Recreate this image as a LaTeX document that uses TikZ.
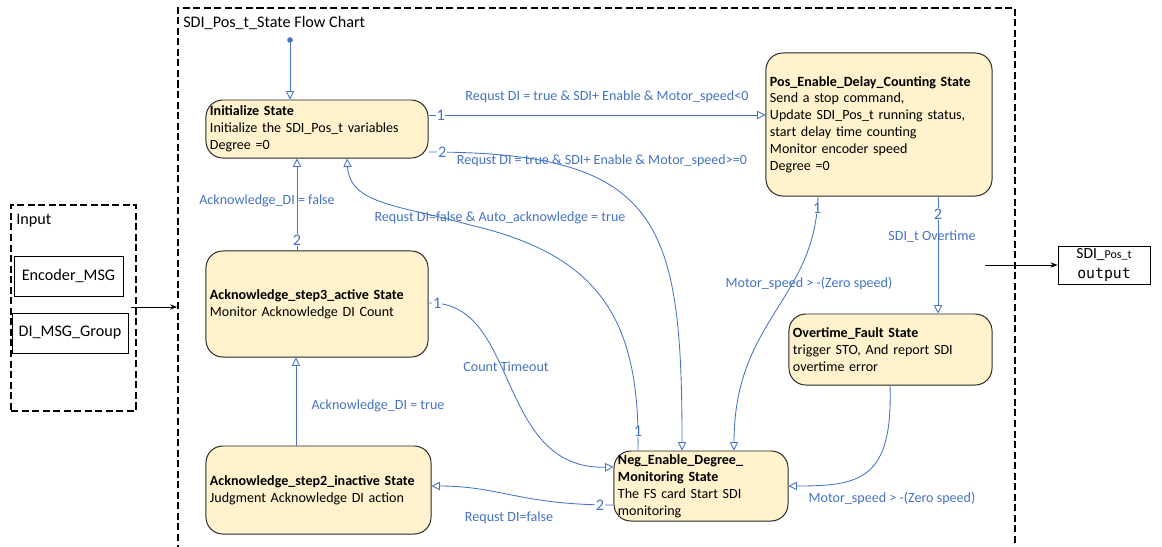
\documentclass[tikz,border=0pt]{standalone}
\usepackage{fontspec}
\setmainfont{Carlito}
\setmonofont{DejaVu Sans Mono}
\usetikzlibrary{arrows.meta,positioning}
\definecolor{flowblue}{HTML}{4472C4}
\definecolor{statefill}{HTML}{FFF2CC}

\begin{document}
\begin{tikzpicture}[
    x=0.025cm, y=-0.025cm,
    >=Stealth,
    state/.style={
        rectangle,
        rounded corners=12pt,
        draw=black!85,
        line width=0.7pt,
        fill=statefill,
        align=left,
        inner xsep=0.1cm,
        inner ysep=1pt,
        font=\fontsize{10}{12}\selectfont
    },
    flow/.style={
        draw=flowblue,
        line width=0.6pt,
        -{Triangle[open,length=6pt,width=6pt]}
    },
    lbl/.style={
        text=flowblue,
        inner sep=1pt,
        font=\fontsize{10}{12}\selectfont
    },
    num/.style={
        text=flowblue,
        fill=white,
        inner sep=0.5pt,
        font=\fontsize{11.5}{13}\selectfont
    },
    dashframe/.style={
        draw,
        line width=1.1pt,
        dash pattern=on 5pt off 2.5pt,
        inner sep=0pt
    },
    msgbox/.style={
        draw,
        line width=0.6pt,
        font=\fontsize{11.5}{14}\selectfont
    }
]
\useasboundingbox (0,0) rectangle (1162,546);

% Frames
\node[dashframe, minimum width=20.925cm, minimum height=13.8cm] (chart) at (596.5,284) {};
\node[anchor=west, inner sep=0pt, font=\fontsize{11.5}{14}\selectfont] (title) at (183,23) {SDI\_Pos\_t\_State Flow Chart};
\node[dashframe, minimum width=3.125cm, minimum height=5.15cm] (input) at (73.5,308) {};
\node[anchor=west, inner sep=0pt, font=\fontsize{11.5}{14}\selectfont] (inlbl) at (16,221) {Input};

% Input messages
\node[msgbox, minimum width=2.725cm, minimum height=1cm] (enc) at (68.5,276) {Encoder\_MSG};
\node[msgbox, minimum width=2.9cm, minimum height=1cm] (dimsg) at (70,333) {DI\_MSG\_Group};
\coordinate (insrc) at (131,307);
\draw[-{Stealth[length=5pt]}, line width=0.6pt] (insrc) -- (chart.west |- insrc);

% Output
\node[msgbox, minimum width=2.3cm, minimum height=0.95cm, align=center, inner sep=1pt, font=\fontsize{11}{14}\selectfont] (out) at (1104,265) {SDI\_{\fontsize{8.5}{10}\selectfont Pos\_t}\\{\ttfamily\fontsize{10.5}{14}\selectfont output}};
\coordinate (outsrc) at (985,265);
\draw[-{Stealth[length=5pt]}, line width=0.6pt] (outsrc) -- (out);

% States
\node[circle, fill=flowblue, inner sep=0pt, minimum size=4pt] (start) at (290,40) {};
\node[state, text width=5.35cm, minimum height=1.45cm] (init) at (317,129) {\textbf{Initialize State}\\Initialize the SDI\_Pos\_t variables\\Degree =0};
\node[state, text width=5.45cm, minimum height=3.575cm] (posen) at (879,124.5) {\textbf{Pos\_Enable\_Delay\_Counting State}\\Send a stop command,\\Update SDI\_Pos\_t running status,\\start delay time counting\\Monitor encoder speed\\Degree =0};
\node[state, text width=5.35cm, minimum height=2.65cm] (ackact) at (317,304) {\textbf{Acknowledge\_step3\_active State}\\Monitor Acknowledge DI Count};
\node[state, text width=5.425cm, minimum height=2.2cm] (ackinact) at (318.5,490) {\textbf{Acknowledge\_step2\_inactive State}\\Judgment Acknowledge DI action};
\node[state, text width=4.15cm, minimum height=1.75cm] (negmon) at (701,486) {\textbf{Neg\_Enable\_Degree\_}\\\textbf{Monitoring State}\\The FS card Start SDI\\monitoring};
\node[state, text width=4.875cm, minimum height=1.775cm] (ovtime) at (890.5,349.5) {\textbf{Overtime\_Fault State}\\trigger STO, And report SDI\\overtime error};

% Transitions
\draw[flow] (start) -- (init.north -| start);

\draw[flow] (init.east |- 0,115) -- node[num, pos=0.036]{1} (posen.west |- 0,115);
\node[lbl] (c1) at (607,97) {Requst DI = true \& SDI+ Enable \& Motor\_speed<0};

\draw[flow] (init.east |- 0,152) .. controls (660,152) and (682,220) .. (negmon.north -| 682,0) node[num, pos=0.02]{2};
\node[lbl] (c2) at (602,161) {Requst DI = true \& SDI+ Enable \& Motor\_speed>=0};

\draw[flow] (negmon.north -| 638,0) .. controls (640,320) and (600,255) .. (470,225) node[num, pos=0.05]{1}
    .. controls (400,205) and (350,205) .. (init.south -| 347,0);
\node[lbl] (c3) at (500,218) {Requst DI=false \& Auto\_acknowledge = true};

\draw[flow] (ackact.north -| 297,0) -- node[num, pos=0.11]{2} (init.south -| 297,0);
\node[lbl] (c4) at (267,201) {Acknowledge\_DI = false};

\draw[flow] (ackact.east |- 0,303) .. controls (520,300) and (495,470) .. (negmon.west |- 0,467) node[num, pos=0.033]{1};
\node[lbl] (c5) at (506,367) {Count Timeout};

\draw[flow] (ackinact.north -| 296,0) -- (ackact.south -| 296,0);
\node[lbl] (c6) at (378,406) {Acknowledge\_DI = true};

\draw[flow] (negmon.west |- 0,505) .. controls (520,505) and (500,486) .. (ackinact.east |- 0,486) node[num, pos=0.05]{2};
\node[lbl] (c7) at (509,518) {Requst DI=false};

\draw[flow] (posen.south -| 818,0) .. controls (815,300) and (734,320) .. (negmon.north -| 734,0) node[num, pos=0.04]{1};
\node[lbl] (c8) at (809,283) {Motor\_speed > -(Zero speed)};

\draw[flow] (posen.south -| 938,0) -- node[num, pos=0.15]{2} (ovtime.north -| 938,0);
\node[lbl] (c9) at (932,237) {SDI\_t Overtime};

\draw[flow] (ovtime.south -| 890,0) .. controls (893,480) and (860,486) .. (negmon.east);
\node[lbl] (c10) at (892,498) {Motor\_speed > -(Zero speed)};

\end{tikzpicture}
\end{document}
